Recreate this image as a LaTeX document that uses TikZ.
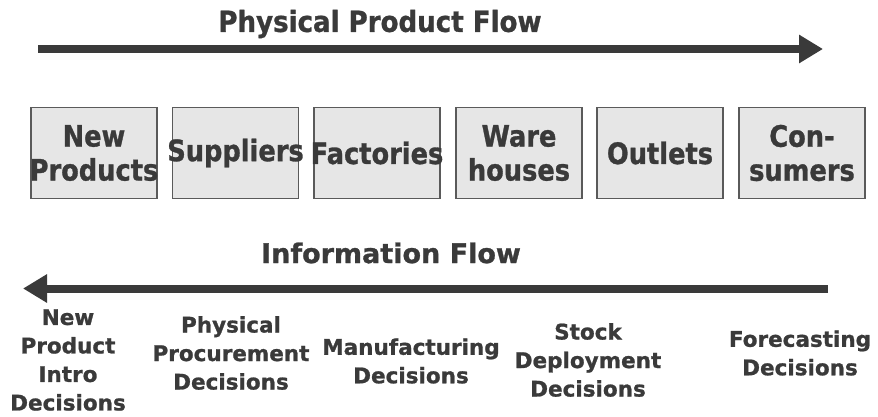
\documentclass[tikz,border=0pt]{standalone}
\usepackage{fontspec}
\setmainfont{DejaVu Sans}[BoldFeatures={FakeBold=1}]
\newfontfamily\narrowfont{DejaVu Sans Condensed}[BoldFeatures={FakeBold=1}]
\newfontfamily\tallfont{DejaVu Sans}[FakeStretch=0.87,BoldFeatures={FakeBold=1}]
\usetikzlibrary{arrows.meta}
\definecolor{ink}{HTML}{3A3A3A}
\definecolor{boxfill}{HTML}{E6E6E6}
\definecolor{boxline}{HTML}{5A5A5A}
\begin{document}
\begin{tikzpicture}[x=1pt,y=-1pt,
	flow/.style={line width=8pt,draw=ink,-{Triangle[length=24pt,width=27pt]}},
	stage/.style={draw=boxline,fill=boxfill,line width=1.2pt,minimum width=126pt,minimum height=91pt,inner sep=0pt},
	stagetext/.style={text=ink,align=center,font=\tallfont\bfseries\fontsize{29.5}{34}\selectfont},
	decision/.style={text=ink,align=center,font=\bfseries\fontsize{21.5}{28.5}\selectfont},
	heading/.style={text=ink,font=\bfseries\fontsize{27}{32}\selectfont}]
	\useasboundingbox (0,0) rectangle (878,417);
	%Physical flow
	\node (pflabel) [heading,font=\narrowfont\bfseries\fontsize{29}{32}\selectfont] at (380,24) {Physical Product Flow};
	\coordinate (pfstart) at (38,49);
	\coordinate (pfend) at (823,49);
	\draw [flow] (pfstart)--(pfend);
	%Boxes
	\node (b1) [stage] at (94,153) {};
	\node (t1) [stagetext] at (b1) {New\\Products};
	\node (b2) [stage] at (235.5,153) {};
	\node (t2) [stagetext] at (b2) {Suppliers};
	\node (b3) [stage] at (377,153) {};
	\node (t3) [stagetext] at (b3) {Factories};
	\node (b4) [stage] at (519,153) {};
	\node (t4) [stagetext] at (b4) {Ware\\houses};
	\node (b5) [stage] at (660,153) {};
	\node (t5) [stagetext] at (b5) {Outlets};
	\node (b6) [stage] at (802,153) {};
	\node (t6) [stagetext] at (b6) {Con-\\sumers};
	%Information flow
	\node (iflabel) [heading] at (391,253) {Information Flow};
	\coordinate (ifstart) at (828,288.5);
	\coordinate (ifend) at (23,288.5);
	\draw [flow] (ifstart)--(ifend);
	%Decisions
	\node (d1) [decision] at (68,360) {New\\Product\\Intro\\Decisions};
	\node (d2) [decision] at (231,353) {Physical\\Procurement\\Decisions};
	\node (d3) [decision] at (411,361) {Manufacturing\\Decisions};
	\node (d4) [decision] at (588,360) {Stock\\Deployment\\Decisions};
	\node (d5) [decision] at (800,353) {Forecasting\\Decisions};
\end{tikzpicture}
\end{document}
